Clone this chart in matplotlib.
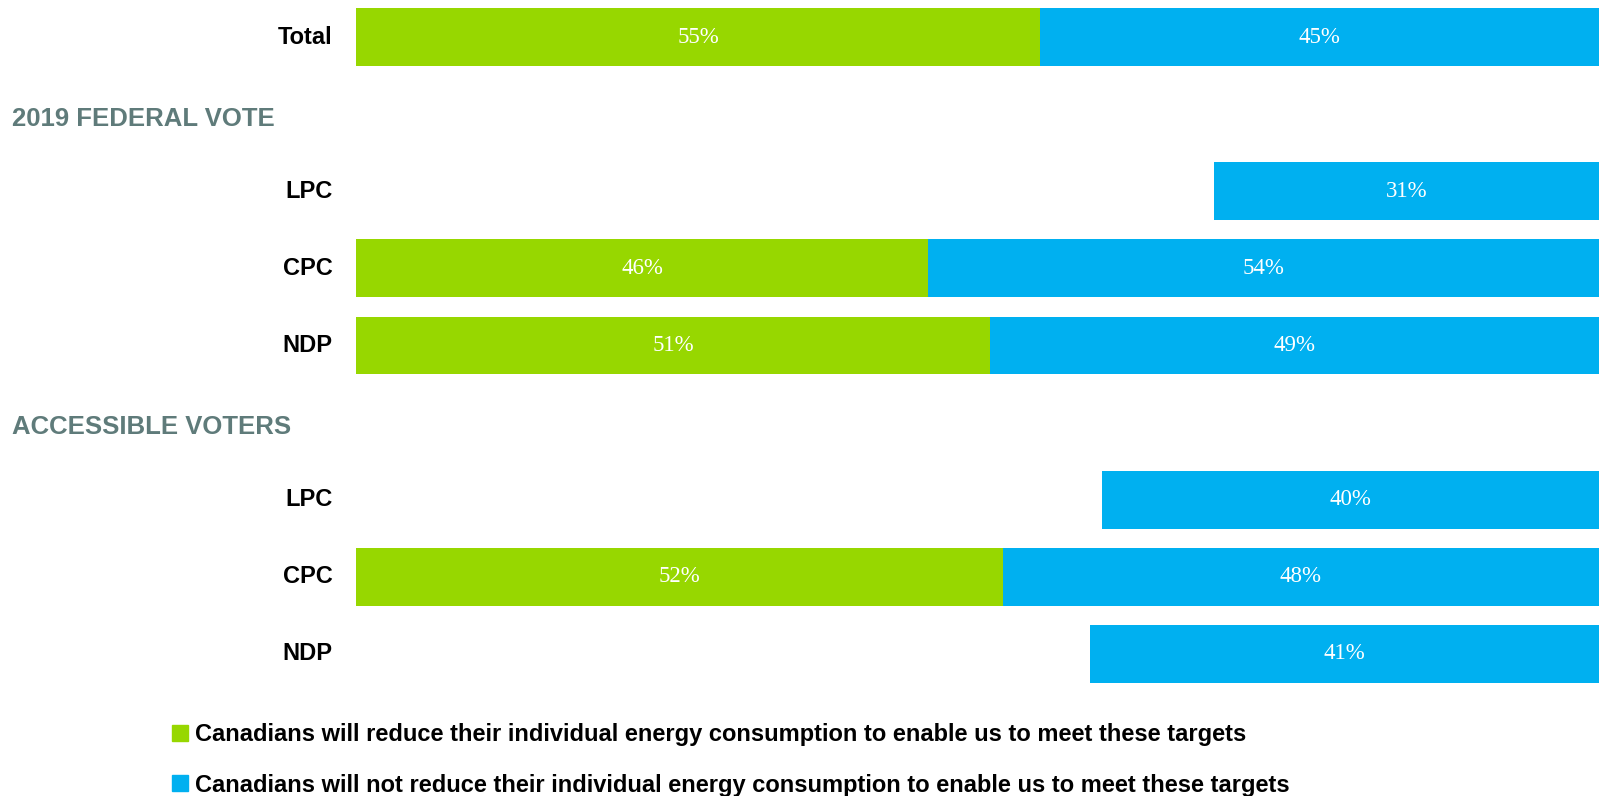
import matplotlib.pyplot as plt

rows = ['Total', '2019 FEDERAL VOTE', 'LPC', 'CPC', 'NDP',
        'ACCESSIBLE VOTERS', 'LPC', 'CPC', 'NDP']
headings = ['2019 FEDERAL VOTE', 'ACCESSIBLE VOTERS']
# share for each bar row (headings skipped)
will_reduce = [55, 69, 46, 51, 60, 52, 59]
will_not = [45, 31, 54, 49, 40, 48, 41]
# the green part is left blank on a few rows in the original
show_green = [True, False, True, True, False, True, False]

series_labels = [
    'Canadians will reduce their individual energy consumption to enable us to meet these targets',
    'Canadians will not reduce their individual energy consumption to enable us to meet these targets',
]
GREEN = '#97D700'
BLUE = '#00B0F0'
HEAD = '#5F7B7A'

fig = plt.figure(figsize=(16.04, 7.96), dpi=100)
ax = fig.add_axes([0.222, 0.130, 0.775, 0.870])

pos = [i for i, r in enumerate(rows) if r not in headings]
g_colors = [GREEN if s else 'none' for s in show_green]
ax.barh(pos, will_reduce, height=0.75, color=g_colors)
ax.barh(pos, will_not, left=will_reduce, height=0.75, color=BLUE)

for p, g, b, s in zip(pos, will_reduce, will_not, show_green):
    if s:
        ax.text(g / 2, p, f'{g}%', ha='center', va='center', color='white',
                fontsize=16.5, family='Liberation Serif')
    ax.text(g + b / 2, p, f'{b}%', ha='center', va='center', color='white',
            fontsize=16.5, family='Liberation Serif')

ax.set_xlim(0, 100)
ax.set_ylim(8.5, -0.48)
ax.axis('off')

# row labels; headings start near the left edge of the figure
x_head = (12 / 1604 - 0.222) / 0.775
for i, r in enumerate(rows):
    if r in headings:
        ax.text(x_head, i + 0.06, r, transform=ax.get_yaxis_transform(),
                ha='left', va='center', fontsize=18.5, fontweight='bold',
                color=HEAD, family='Liberation Sans')
    else:
        ax.text(-1.9, i, r, ha='right', va='center', fontsize=17,
                fontweight='bold', color='black', family='Liberation Sans')

handles = [plt.Rectangle((0, 0), 1, 1, color=GREEN),
           plt.Rectangle((0, 0), 1, 1, color=BLUE)]
fig.legend(handles, series_labels, loc='upper left',
           bbox_to_anchor=(0.100, 0.106), frameon=False, borderpad=0,
           handlelength=0.65, handleheight=0.65, handletextpad=0.3,
           labelspacing=1.15, prop={'family': 'Liberation Sans',
                                    'weight': 'bold', 'size': 17})

fig.savefig('out.png', dpi=100)
